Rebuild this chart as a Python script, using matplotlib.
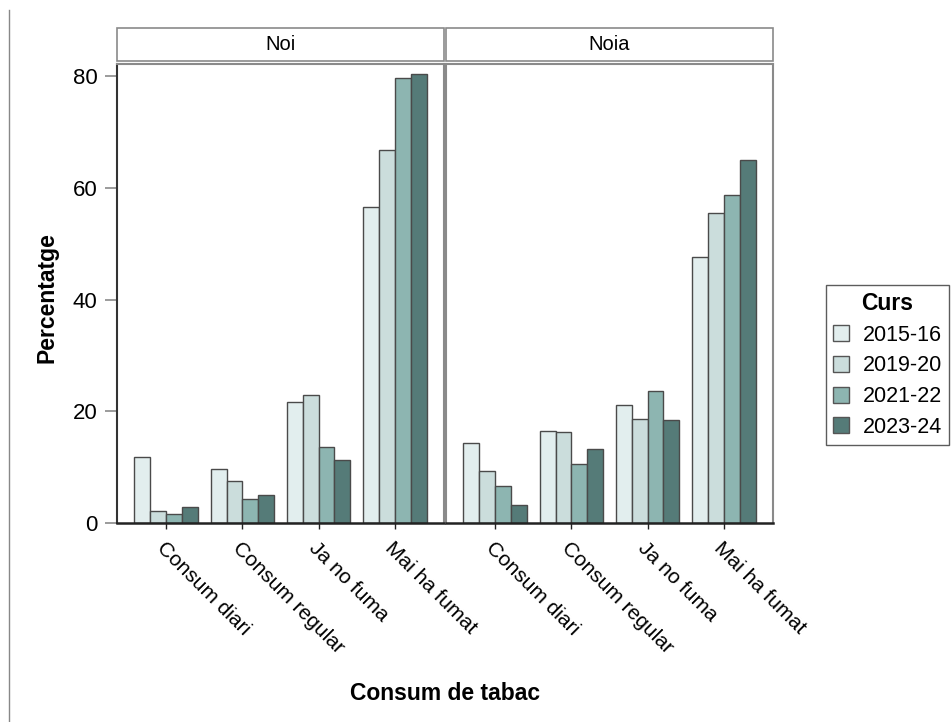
import numpy as np
import matplotlib
matplotlib.use("Agg")
import matplotlib.pyplot as plt
from matplotlib.patches import Patch, Rectangle
from matplotlib.lines import Line2D

plt.rcParams['font.family'] = ['Liberation Sans', 'DejaVu Sans']

# dades
categories = ["Consum diari", "Consum regular", "Ja no fuma", "Mai ha fumat"]
courses = ["2015-16", "2019-20", "2021-22", "2023-24"]
panels = ["Noi", "Noia"]

noi = {
    "2015-16": [11.8, 9.7, 21.6, 56.6],
    "2019-20": [2.2, 7.6, 23.0, 66.8],
    "2021-22": [1.7, 4.3, 13.7, 79.7],
    "2023-24": [2.9, 5.1, 11.2, 80.4],
}
noia = {
    "2015-16": [14.3, 16.5, 21.1, 47.7],
    "2019-20": [9.3, 16.3, 18.6, 55.5],
    "2021-22": [6.7, 10.6, 23.6, 58.7],
    "2023-24": [3.2, 13.3, 18.4, 65.0],
}
colors = ["#e2eeee", "#cbdddc", "#8db5b1", "#557b78"]

fig = plt.figure(figsize=(9.53, 7.22), dpi=100)

W, H = 953, 722
def fx(px):
    return px / W
def fy(px):
    return 1 - px / H

ax_l = fig.add_axes([fx(117), fy(523), fx(444) - fx(117), fy(64) - fy(523)])
ax_r = fig.add_axes([fx(446), fy(523), fx(444) - fx(117), fy(64) - fy(523)], sharey=ax_l)

x = np.arange(1, len(categories) + 1)
bw = 0.21
for ax, data, name in [(ax_l, noi, "Noi"), (ax_r, noia, "Noia")]:
    for i, c in enumerate(courses):
        ax.bar(x + (i - 1.5) * bw, data[c], width=bw, color=colors[i],
               edgecolor="#4a4a4a", linewidth=1.0)
    ax.set_xlim(0.35, 4.65)
    ax.set_ylim(0, 82.2)
    ax.set_xticks(x)
    ax.set_xticklabels(categories, rotation=-45, ha="left", va="top",
                       rotation_mode="anchor", fontsize=15)
    ax.tick_params(axis="x", length=4, width=1, color="#222222", pad=7)
    for s in ["top", "right", "left"]:
        ax.spines[s].set_color("#8a8a8a")
        ax.spines[s].set_linewidth(1.5)
    ax.spines["bottom"].set_color("#222222")
    ax.spines["bottom"].set_linewidth(1.8)

    # capçalera del panell
    pos = ax.get_position()
    strip = Rectangle((pos.x0, fy(61)), pos.width, fy(28) - fy(61),
                      transform=fig.transFigure, facecolor="white",
                      edgecolor="#8a8a8a", linewidth=1.2)
    fig.add_artist(strip)
    fig.text(pos.x0 + pos.width / 2, (fy(61) + fy(28)) / 2, name,
             ha="center", va="center", fontsize=14.5)

ax_l.spines["left"].set_color("#333333")
ax_l.set_yticks([0, 20, 40, 60, 80])
ax_l.tick_params(axis="y", labelsize=16, length=9, width=1.2, color="#8a8a8a", pad=5)
ax_r.tick_params(axis="y", left=False, labelleft=False)

fig.text(fx(47), fy(298), "Percentatge", rotation=90, ha="center",
         va="center", fontsize=16.5, fontweight="bold")
fig.text(fx(445), fy(693), "Consum de tabac", ha="center", va="center",
         fontsize=16.5, fontweight="bold")

handles = [Patch(facecolor=colors[i], edgecolor="#555555", label=c)
           for i, c in enumerate(courses)]
leg = fig.legend(handles=handles, title="Curs", loc="center",
                 bbox_to_anchor=(fx(887.5), fy(365)), fontsize=15.5,
                 title_fontproperties={"weight": "bold", "size": 16.5},
                 frameon=True, fancybox=False, edgecolor="#333333",
                 handlelength=0.75, handleheight=0.75, handletextpad=0.6,
                 labelspacing=0.45, borderpad=0.35, borderaxespad=0)
leg.get_frame().set_linewidth(1.0)

fig.add_artist(Line2D([fx(9), fx(9)], [fy(10), 0], color="#888888", linewidth=1))

fig.savefig("out.png", dpi=100)
